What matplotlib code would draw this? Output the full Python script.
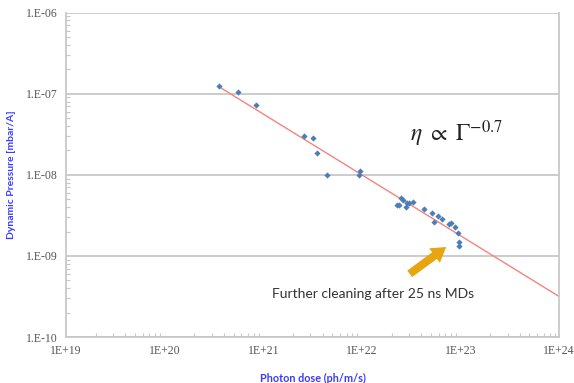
import matplotlib
matplotlib.use("Agg")
import matplotlib.pyplot as plt
from matplotlib.ticker import LogLocator, NullFormatter, FixedLocator

# Photon dose (ph/m/s) and dynamic pressure (mbar/A)
dose = [3.57e20, 5.57e20, 8.49e20, 2.61e21, 3.22e21, 3.53e21, 4.47e21, 9.66e21, 9.44e21,
        2.29e22, 2.40e22, 2.52e22, 2.64e22, 2.83e22, 2.90e22, 3.04e22, 3.33e22, 4.31e22,
        5.20e22, 5.45e22, 5.98e22, 6.56e22, 7.73e22, 8.10e22, 8.89e22, 9.55e22, 9.77e22, 9.77e22]
pressure = [1.24e-7, 1.04e-7, 7.2e-8, 2.99e-8, 2.82e-8, 1.84e-8, 1.0e-8, 1.10e-8, 9.9e-9,
            4.2e-9, 4.2e-9, 5.13e-9, 4.84e-9, 3.97e-9, 4.45e-9, 4.45e-9, 4.57e-9, 3.75e-9,
            3.35e-9, 2.59e-9, 3.08e-9, 2.82e-9, 2.45e-9, 2.52e-9, 2.25e-9, 1.90e-9, 1.47e-9, 1.31e-9]

# power-law trend: p = fit_a * (dose / 1e22) ** fit_k
fit_a = 1e-8
fit_k = -0.75
fit_x = [3.5e20, 1e24]
fit_y = [fit_a * (x / 1e22) ** fit_k for x in fit_x]

x_ticks = [1e19, 1e20, 1e21, 1e22, 1e23, 1e24]
x_labels = ["1E+19", "1E+20", "1E+21", "1E+22", "1E+23", "1E+24"]
y_ticks = [1e-10, 1e-9, 1e-8, 1e-7, 1e-6]
y_labels = ["1.E-10", "1.E-09", "1.E-08", "1.E-07", "1.E-06"]

plt.rcParams["mathtext.fontset"] = "stix"

fig = plt.figure(figsize=(5.74, 3.83), dpi=100)
ax = fig.add_axes([0.115, 0.120, 0.859, 0.847])

ax.set_xscale("log")
ax.set_yscale("log")
ax.set_xlim(1e19, 1e24)
ax.set_ylim(1e-10, 1e-6)

ax.plot(fit_x, fit_y, color="#F4837F", lw=1.0, zorder=2)
ax.scatter(dose, pressure, marker="D", s=10, color="#4A7EBB", zorder=3, linewidths=0)

# grid only horizontal
ax.yaxis.set_major_locator(FixedLocator(y_ticks))
ax.xaxis.set_major_locator(FixedLocator(x_ticks))
ax.set_yticklabels(y_labels)
ax.set_xticklabels(x_labels)
ax.yaxis.set_minor_locator(LogLocator(base=10, subs=range(2, 10), numticks=20))
ax.xaxis.set_minor_locator(LogLocator(base=10, subs=range(2, 10), numticks=20))
ax.xaxis.set_minor_formatter(NullFormatter())
ax.yaxis.set_minor_formatter(NullFormatter())
ax.grid(axis="y", which="major", color="#C8C8C8", lw=1.3)
ax.set_axisbelow(True)

for s in ["left", "bottom", "right"]:
    ax.spines[s].set_color("#C8C8C8")
    ax.spines[s].set_linewidth(1.3)
ax.spines["top"].set_visible(False)

ax.tick_params(which="major", length=0, pad=6, labelsize=8.5, labelcolor="#555555")
ax.tick_params(which="minor", direction="in", length=3, color="#C8C8C8", width=0.8)
ax.tick_params(axis="y", which="minor", left=True, right=False)
for lab in ax.get_xticklabels() + ax.get_yticklabels():
    lab.set_family("Liberation Serif")

ax.set_xlabel("Photon dose (ph/m/s)", color="#3B3BFF", fontsize=7.8, fontweight="bold",
              family="Lato", labelpad=11)
fig.text(12 / 574, 0.543, "Dynamic Pressure [mbar/A]", color="#3B3BFF", fontsize=7.5,
         fontweight="bold", family="Lato", rotation=90, ha="center", va="center")

ax.text(3.1e22, 3.25e-8, r"$\eta\ \propto\ \Gamma^{-0.7}$", fontsize=17, color="#222222",
        ha="left", va="center")

ax.annotate("", xy=(7.55e22, 1.35e-9), xytext=(2.9e22, 5.74e-10),
            arrowprops=dict(arrowstyle="simple,head_length=0.8,head_width=1.0,tail_width=0.45",
                            mutation_scale=13, color="#E8A512", lw=0))
ax.text(1.23e21, 3.44e-10, "Further cleaning after 25 ns MDs", fontsize=10, color="#333333",
        family="Lato", ha="left", va="center")

fig.savefig("out.png", dpi=100)
